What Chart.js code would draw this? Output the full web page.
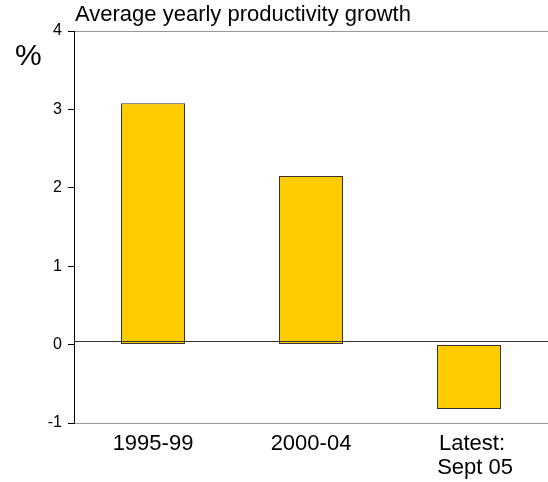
<!DOCTYPE html>
<html lang="en">
<head>
<meta charset="UTF-8">
<title>Average yearly productivity growth</title>
<script src="https://cdn.jsdelivr.net/npm/chart.js"></script>
<style>
  body { margin: 0; background: #fff; }
  .wrap { position: relative; width: 548px; height: 482px; font-family: "Liberation Sans", Arial, sans-serif; color: #000; }
  .title { position: absolute; left: 75px; top: 3px; font-size: 22px; line-height: 1; white-space: nowrap; }
  .unit { position: absolute; left: 15px; top: 40px; font-size: 30px; line-height: 1; }
  canvas { position: absolute; left: 0; top: 0; }
</style>
</head>
<body>
<div class="wrap">
  <canvas id="prodChart" width="548" height="482"></canvas>
  <div class="title">Average yearly productivity growth</div>
  <div class="unit">%</div>
</div>

<script>
// chart data
const periods = ['1995-99', '2000-04', ['  Latest: ', '  Sept 05']];
const growth = [3.08, 2.15, -0.82];
const yTicks = [-1, 0, 1, 2, 3, 4];

// dark line near zero, drawn over the bars
const zeroLine = {
  id: 'zeroLine',
  afterDatasetsDraw(chart) {
    const { ctx, chartArea, scales } = chart;
    const y = Math.round(scales.y.getPixelForValue(0) - 3.5) + 0.5;
    ctx.save();
    ctx.strokeStyle = '#333';
    ctx.lineWidth = 1;
    ctx.beginPath();
    ctx.moveTo(chartArea.left, y);
    ctx.lineTo(chartArea.right, y);
    ctx.stroke();
    ctx.restore();
  }
};

const ctx = document.getElementById('prodChart').getContext('2d');
new Chart(ctx, {
  type: 'bar',
  data: {
    labels: periods,
    datasets: [{
      data: growth,
      backgroundColor: '#FFCC00',
      borderColor: '#333',
      borderWidth: 1,
      borderSkipped: false,
      categoryPercentage: 1,
      barPercentage: 0.405
    }]
  },
  options: {
    responsive: false,
    animation: false,
    layout: { padding: { top: 31, right: 0, left: 0, bottom: 0 } },
    plugins: {
      legend: { display: false },
      tooltip: { enabled: false }
    },
    scales: {
      x: {
        grid: { display: false, drawTicks: false },
        border: { display: true, color: '#999', width: 1 },
        ticks: {
          color: '#000',
          padding: 9,
          maxRotation: 0,
          font: { family: '"Liberation Sans", Arial, sans-serif', size: 22, lineHeight: 1.1 }
        },
        afterFit(scale) { scale.height = 59; }
      },
      y: {
        min: yTicks[0],
        max: yTicks[yTicks.length - 1],
        afterBuildTicks(scale) { scale.ticks = yTicks.map(v => ({ value: v })); },
        grid: {
          color: c => (c.tick && c.tick.value === 4) ? '#999' : 'rgba(0,0,0,0)',
          tickColor: '#000',
          tickLength: 6
        },
        border: { color: '#000', width: 1 },
        ticks: {
          color: '#000',
          padding: 6,
          font: { family: '"Liberation Sans", Arial, sans-serif', size: 16 }
        },
        afterFit(scale) { scale.width = 74; }
      }
    }
  },
  plugins: [zeroLine]
});
</script>
</body>
</html>
